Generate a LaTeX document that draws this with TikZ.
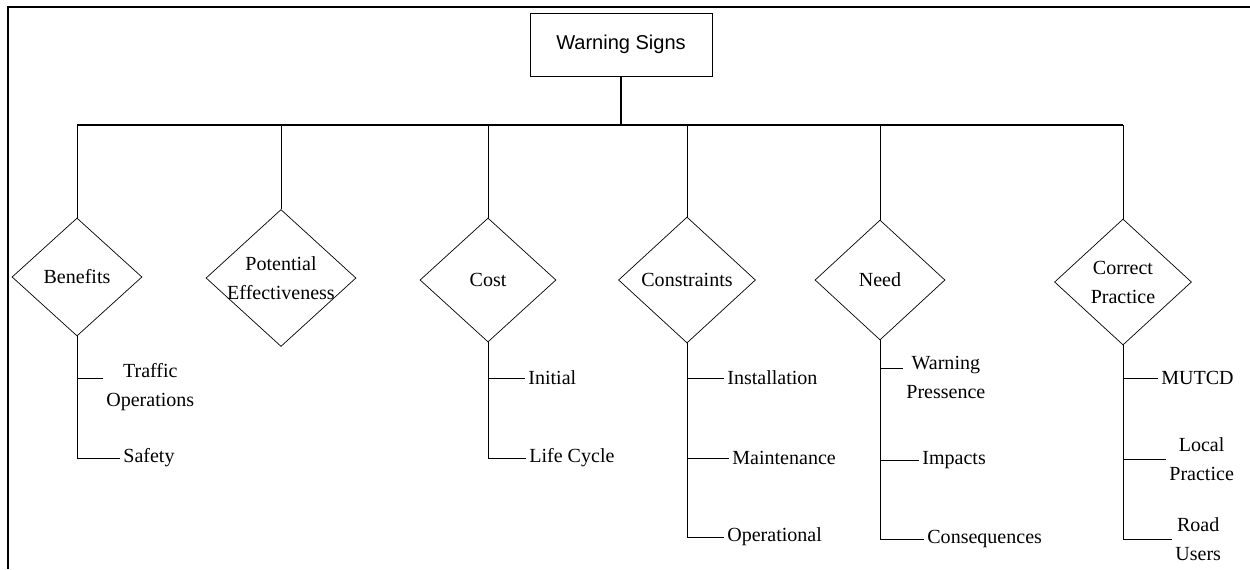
\documentclass[tikz,border=0pt]{standalone}
\usepackage{fontspec}
\setmainfont{Liberation Serif}
\newfontfamily\titlefont{Liberation Sans}
\usepackage{tikz}
\usetikzlibrary{shapes.geometric,positioning,calc}

\tikzset{
  decision/.style={shape=diamond, draw=black, thin, inner sep=0pt},
  branch/.style={align=center, inner sep=2pt, anchor=west},
  headbox/.style={draw=black, thin, minimum width=3.64cm, minimum height=1.26cm, font=\titlefont\fontsize{11.4}{16.5}\selectfont}
}

\begin{document}
\begin{tikzpicture}[x=0.02cm, y=-0.02cm, font=\fontsize{11.4}{16.5}\selectfont]
  \useasboundingbox (0,0) rectangle (1250,569);
  % frame
  \draw[line width=1.1pt] (1250,7) -- (8,7) -- (8,569);
  % top of the tree
  \node[headbox] (title) at (621,44.5) {Warning Signs};
  \coordinate (bus) at (621,125);
  \draw[line width=0.9pt] (title.south) -- (bus);
  % decisions
  \node[decision, minimum width=2.6cm, minimum height=2.36cm, label={center:Benefits}] (benefits) at (77,277) {};
  \node[decision, minimum width=3cm, minimum height=2.74cm, label={[align=center]center:Potential\\Effectiveness}] (potential) at (281,278) {};
  \node[decision, minimum width=2.72cm, minimum height=2.48cm, label={center:Cost}] (cost) at (488,280) {};
  \node[decision, minimum width=2.74cm, minimum height=2.52cm, label={center:Constraints}] (constraints) at (687,280) {};
  \node[decision, minimum width=2.6cm, minimum height=2.4cm, label={center:Need}] (need) at (880,280) {};
  \node[decision, minimum width=2.74cm, minimum height=2.52cm, label={[align=center]center:Correct\\Practice}] (practice) at (1123,282) {};
  % bus line
  \draw[line width=0.7pt] (benefits.north |- bus) -- (practice.north |- bus);
  \foreach \d in {benefits,potential,cost,constraints,need,practice}
    \draw (\d.north |- bus) -- (\d.north);
  % benefits
  \node[branch] (traffic) at (102.5,387) {Traffic\\Operations};
  \node[branch] (safety) at (119.5,458) {Safety};
  % cost
  \node[branch] (initial) at (524.5,378) {Initial};
  \node[branch] (lifecycle) at (525.5,458) {Life Cycle};
  % constraints
  \node[branch] (install) at (723.5,378) {Installation};
  \node[branch] (maint) at (728.5,458) {Maintenance};
  \node[branch] (oper) at (723.5,537) {Operational};
  % need
  \node[branch] (presence) at (902.5,377) {Warning\\Pressence};
  \node[branch] (impacts) at (918.5,460) {Impacts};
  \node[branch] (conseq) at (923.5,539) {Consequences};
  % correct practice
  \node[branch] (mutcd) at (1157.5,378) {MUTCD};
  \node[branch] (local) at (1165.5,459) {Local\\Practice};
  \node[branch] (road) at (1171.5,539) {Road\\Users};
  % links to the items
  \draw (benefits.south) |- ([yshift=5pt]traffic.west);
  \draw (benefits.south) |- (safety.west);
  \draw (cost.south) |- (initial.west);
  \draw (cost.south) |- (lifecycle.west);
  \draw (constraints.south) |- (install.west);
  \draw (constraints.south) |- (maint.west);
  \draw (constraints.south) |- (oper.west);
  \draw (need.south) |- ([yshift=5pt]presence.west);
  \draw (need.south) |- (impacts.west);
  \draw (need.south) |- (conseq.west);
  \draw (practice.south) |- (mutcd.west);
  \draw (practice.south) |- (local.west);
  \draw (practice.south) |- (road.west);
\end{tikzpicture}
\end{document}
